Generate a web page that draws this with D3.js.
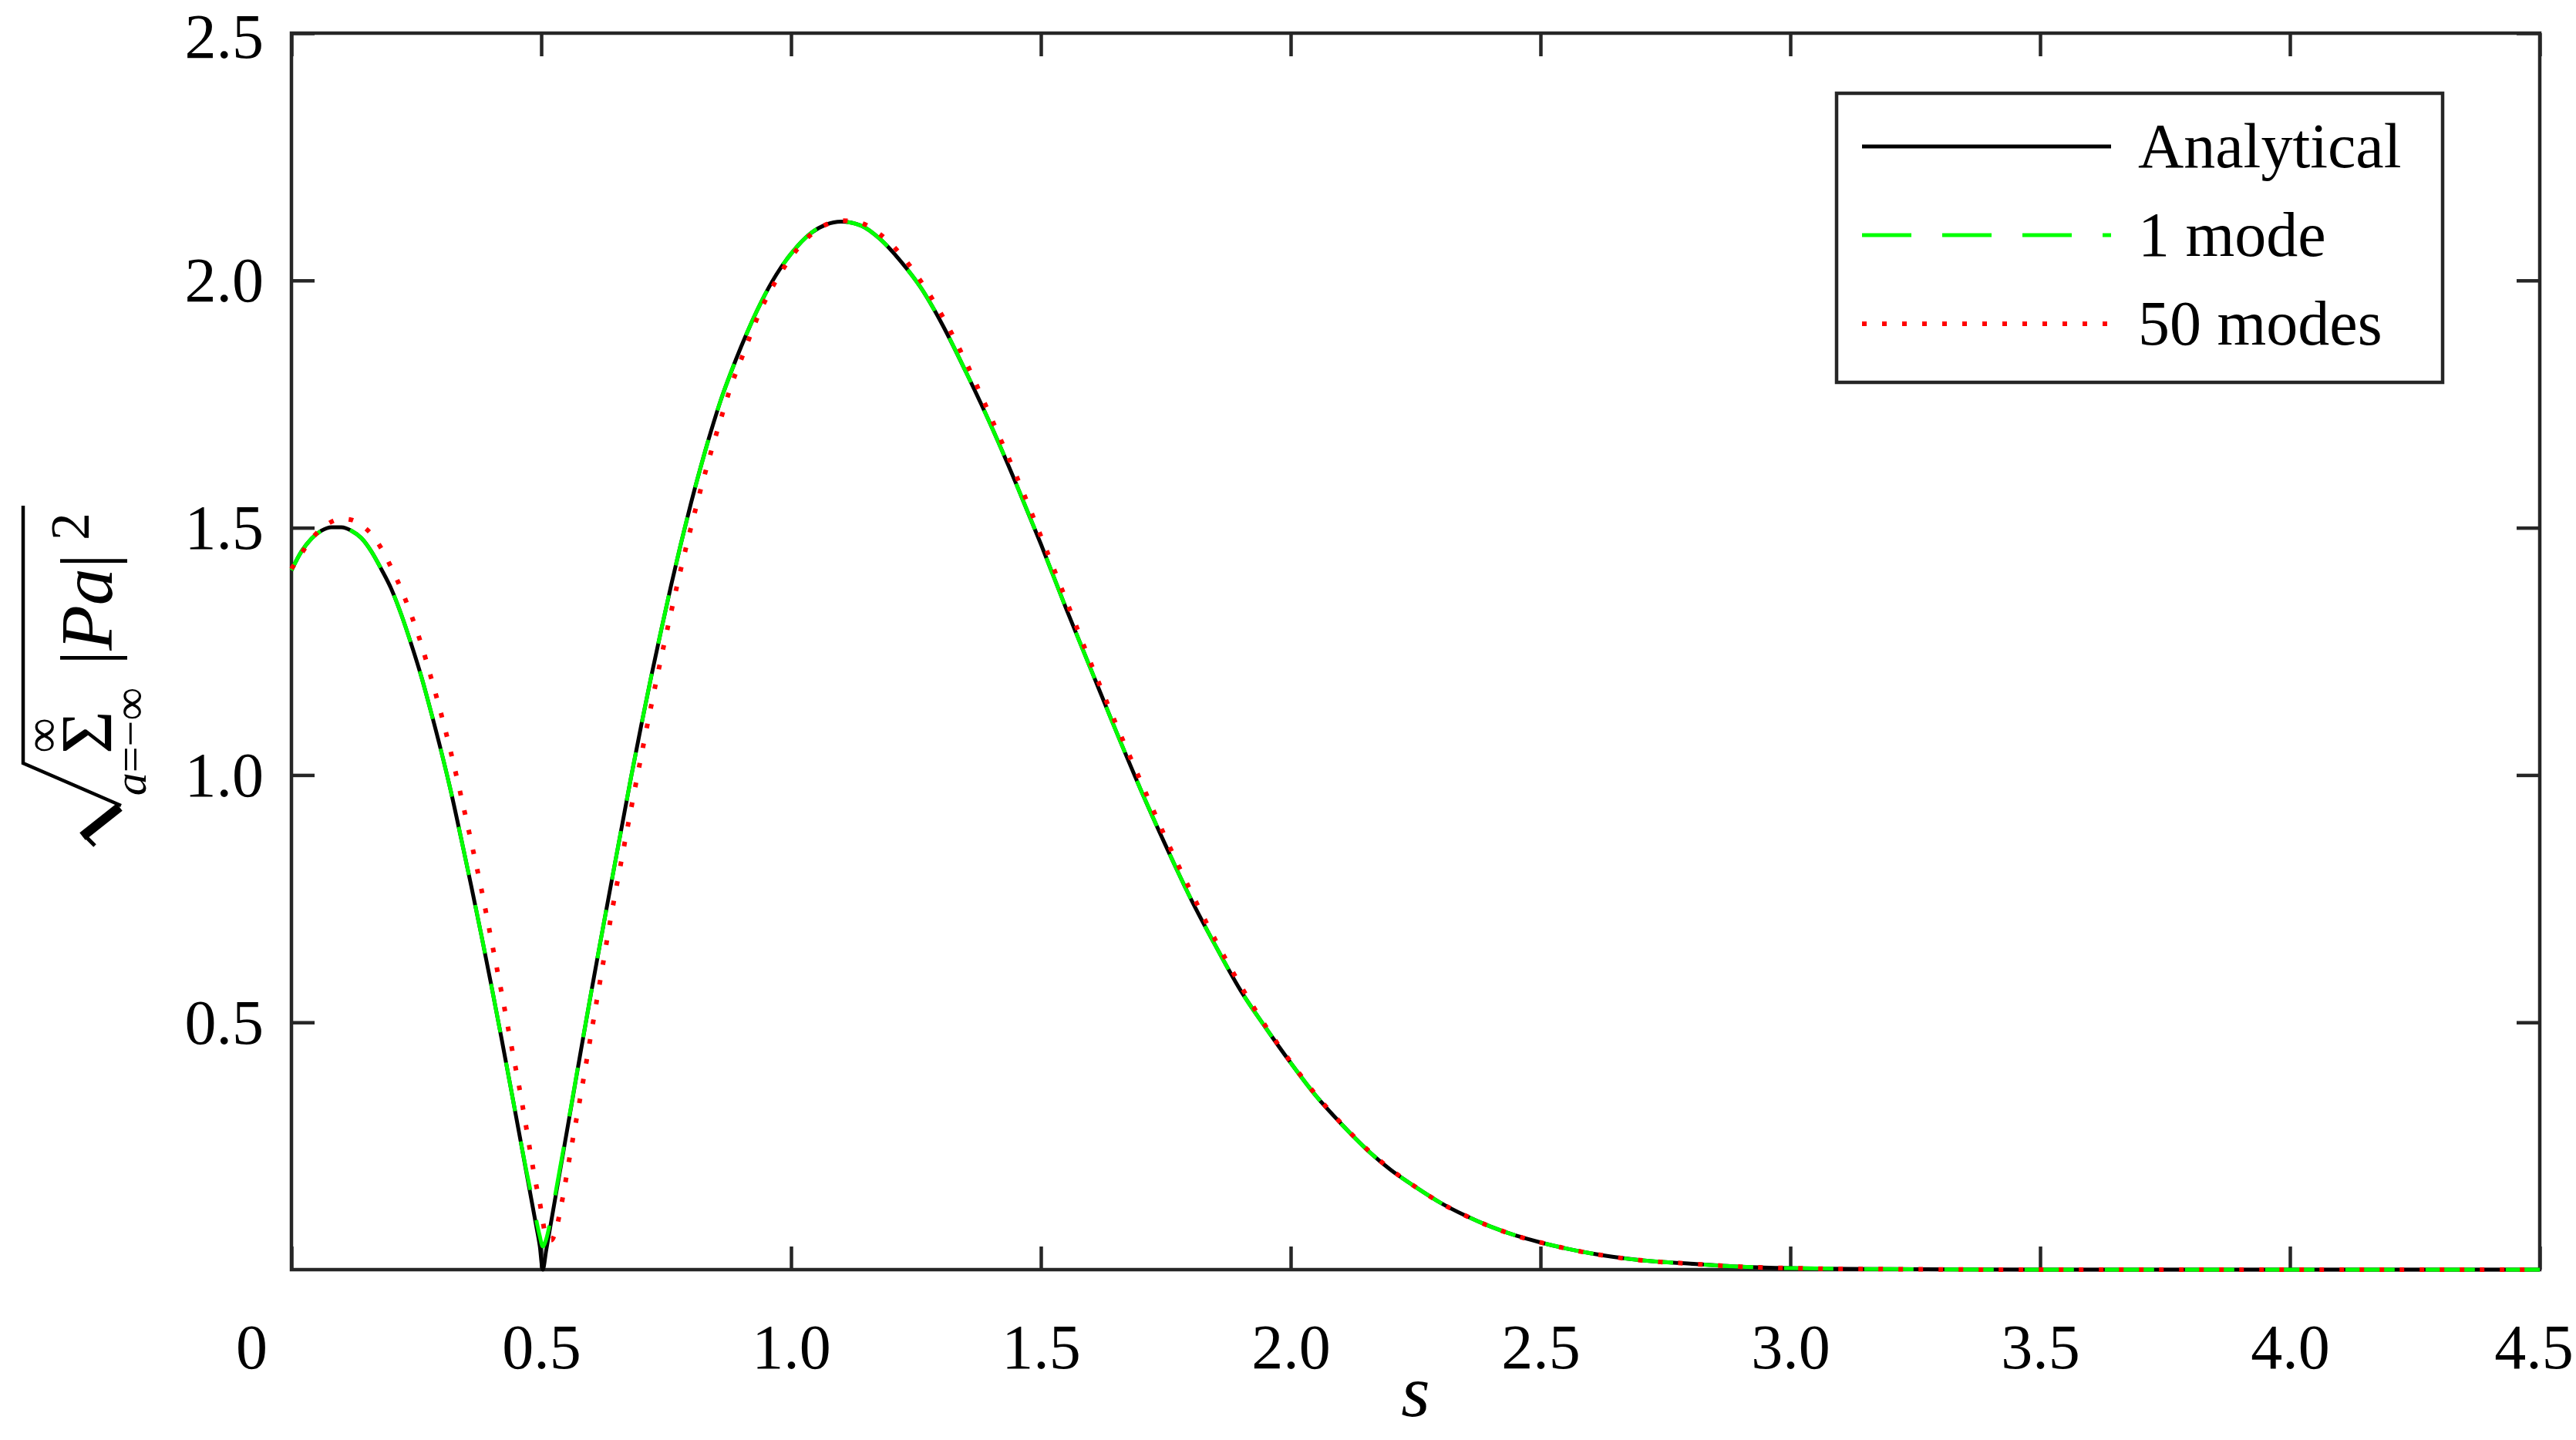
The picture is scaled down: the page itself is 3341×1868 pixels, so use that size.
<!DOCTYPE html>
<html>
<head>
<meta charset="utf-8">
<script src="https://cdn.jsdelivr.net/npm/d3@7"></script>
<style>
body { margin: 0; background: #fff; }
svg { display: block; }
</style>
</head>
<body>
<svg id="chart"></svg>
<script>
// s grid shared by the three curves
var sValues = [
    0, 0.02, 0.04, 0.06, 0.08, 0.10, 0.12, 0.14, 0.16, 0.18,
    0.20, 0.22, 0.24, 0.26, 0.28, 0.30, 0.32, 0.34, 0.36, 0.38,
    0.40, 0.42, 0.44, 0.46, 0.47, 0.48, 0.49, 0.497, 0.503, 0.51,
    0.52, 0.53, 0.54, 0.56, 0.58, 0.60, 0.62, 0.64, 0.66, 0.68,
    0.70, 0.72, 0.74, 0.76, 0.78, 0.80, 0.82, 0.84, 0.86, 0.88,
    0.90, 0.94, 0.97, 1.00, 1.04, 1.07, 1.10, 1.14, 1.18, 1.22,
    1.26, 1.30, 1.35, 1.40, 1.45, 1.50, 1.55, 1.60, 1.65, 1.70,
    1.75, 1.80, 1.85, 1.90, 1.95, 2.00, 2.05, 2.10, 2.15, 2.20,
    2.25, 2.30, 2.35, 2.40, 2.45, 2.50, 2.55, 2.60, 2.70, 2.80,
    2.90, 3.00, 3.20, 3.50, 4.00, 4.50
];

var analytical = [
    1.414, 1.452, 1.478, 1.494, 1.501, 1.501, 1.494, 1.479, 1.452, 1.416,
    1.376, 1.324, 1.264, 1.199, 1.125, 1.047, 0.963, 0.870, 0.775, 0.677,
    0.575, 0.470, 0.362, 0.253, 0.198, 0.143, 0.088, 0.048, 0.000, 0.040,
    0.098, 0.156, 0.214, 0.330, 0.447, 0.561, 0.672, 0.781, 0.889, 0.997,
    1.100, 1.199, 1.293, 1.384, 1.470, 1.551, 1.626, 1.696, 1.760, 1.815,
    1.866, 1.956, 2.011, 2.054, 2.096, 2.113, 2.119, 2.111, 2.082, 2.038,
    1.985, 1.916, 1.815, 1.707, 1.590, 1.467, 1.338, 1.214, 1.090, 0.970,
    0.857, 0.750, 0.654, 0.564, 0.489, 0.418, 0.352, 0.296, 0.245, 0.202,
    0.167, 0.135, 0.109, 0.087, 0.069, 0.055, 0.043, 0.033, 0.019, 0.012,
    0.006, 0.003, 0.001, 0.000, 0.000, 0.000
];

var oneMode = [
    1.414, 1.452, 1.478, 1.494, 1.501, 1.501, 1.494, 1.479, 1.452, 1.416,
    1.376, 1.324, 1.264, 1.199, 1.125, 1.047, 0.963, 0.870, 0.775, 0.677,
    0.575, 0.470, 0.362, 0.253, 0.201, 0.152, 0.100, 0.068, 0.047, 0.062,
    0.108, 0.163, 0.219, 0.332, 0.448, 0.561, 0.672, 0.781, 0.889, 0.997,
    1.100, 1.199, 1.293, 1.384, 1.470, 1.551, 1.626, 1.696, 1.760, 1.815,
    1.866, 1.956, 2.011, 2.054, 2.096, 2.113, 2.119, 2.111, 2.082, 2.038,
    1.985, 1.916, 1.815, 1.707, 1.590, 1.467, 1.338, 1.214, 1.090, 0.970,
    0.857, 0.750, 0.654, 0.564, 0.489, 0.418, 0.352, 0.296, 0.245, 0.202,
    0.167, 0.135, 0.109, 0.087, 0.069, 0.055, 0.043, 0.033, 0.019, 0.012,
    0.006, 0.003, 0.001, 0.000, 0.000, 0.000
];

var fiftyModes = [
    1.417, 1.448, 1.477, 1.498, 1.512, 1.518, 1.516, 1.505, 1.487, 1.458,
    1.419, 1.375, 1.323, 1.264, 1.195, 1.122, 1.042, 0.955, 0.864, 0.770,
    0.667, 0.563, 0.454, 0.346, 0.287, 0.226, 0.170, 0.136, 0.099, 0.064,
    0.060, 0.082, 0.130, 0.246, 0.359, 0.478, 0.597, 0.716, 0.825, 0.933,
    1.038, 1.140, 1.237, 1.330, 1.419, 1.502, 1.581, 1.654, 1.722, 1.787,
    1.840, 1.942, 2.000, 2.047, 2.093, 2.113, 2.121, 2.116, 2.092, 2.052,
    1.998, 1.933, 1.835, 1.723, 1.607, 1.483, 1.355, 1.226, 1.104, 0.987,
    0.872, 0.765, 0.665, 0.574, 0.492, 0.420, 0.354, 0.297, 0.246, 0.203,
    0.167, 0.135, 0.109, 0.087, 0.069, 0.055, 0.043, 0.033, 0.019, 0.012,
    0.006, 0.003, 0.001, 0.000, 0.000, 0.000
];

var seriesNames = ["Analytical", "1 mode", "50 modes"];
var xTicks = [0, 0.5, 1.0, 1.5, 2.0, 2.5, 3.0, 3.5, 4.0, 4.5];
var xTickLabels = ["0", "0.5", "1.0", "1.5", "2.0", "2.5", "3.0", "3.5", "4.0", "4.5"];
var yTicks = [0.5, 1.0, 1.5, 2.0, 2.5];
var yTickLabels = ["0.5", "1.0", "1.5", "2.0", "2.5"];

var svgWidth = 3341, svgHeight = 1868;
var margin = {top: 43, right: 47, bottom: 221, left: 378};
var width = svgWidth - margin.left - margin.right,
    height = svgHeight - margin.top - margin.bottom;
var font = "'Liberation Serif', 'Times New Roman', serif";
var axisColor = "#262626";

var svg = d3.select("#chart")
    .attr("width", svgWidth)
    .attr("height", svgHeight)
    .style("font-family", font);

var g = svg.append("g")
    .attr("transform", "translate(" + margin.left + "," + margin.top + ")");

var x = d3.scaleLinear().domain([0, 4.5]).range([0, width]);
var y = d3.scaleLinear().domain([0, 2.5]).range([height, 0]);

// axes with inward ticks on all four sides
var tickLen = 30;
var xAxis = g.append("g")
    .attr("transform", "translate(0," + height + ")")
    .call(d3.axisBottom(x).tickValues(xTicks)
        .tickFormat(function(d, i) { return xTickLabels[i]; })
        .tickSizeInner(-tickLen).tickSizeOuter(0).tickPadding(70));
var yAxis = g.append("g")
    .call(d3.axisLeft(y).tickValues(yTicks)
        .tickFormat(function(d, i) { return yTickLabels[i]; })
        .tickSizeInner(-tickLen).tickSizeOuter(0).tickPadding(36));
g.append("g")
    .call(d3.axisTop(x).tickValues(xTicks).tickFormat("")
        .tickSizeInner(-tickLen).tickSizeOuter(0));
g.append("g")
    .attr("transform", "translate(" + width + ",0)")
    .call(d3.axisRight(y).tickValues(yTicks).tickFormat("")
        .tickSizeInner(-tickLen).tickSizeOuter(0));

g.selectAll(".domain").remove();
g.selectAll(".tick line")
    .attr("stroke", axisColor)
    .attr("stroke-width", 4.5);
g.selectAll(".tick text")
    .attr("fill", "#000")
    .style("font-family", font)
    .style("font-size", "82px");
yAxis.selectAll(".tick text")
    .attr("dy", function(d) { return d === 2.5 ? "0.38em" : "0.33em"; });
xAxis.selectAll(".tick text").attr("dy", "0.71em");
// origin label sits left of the axis corner, last label kept inside the page
xAxis.selectAll(".tick text").filter(function(d) { return d === 0; })
    .attr("dx", -52);
xAxis.selectAll(".tick text").filter(function(d) { return d === 4.5; })
    .attr("dx", -8);

g.append("rect")
    .attr("width", width)
    .attr("height", height)
    .attr("fill", "none")
    .attr("stroke", axisColor)
    .attr("stroke-width", 4.5);

// curves
var styles = [
    {color: "#000000", width: 5, dash: null},
    {color: "#00ff00", width: 5, dash: "64,40"},
    {color: "#ff0000", width: 6, dash: "6,20"}
];
var seriesValues = [analytical, oneMode, fiftyModes];

var line = d3.line()
    .x(function(d) { return x(d[0]); })
    .y(function(d) { return y(d[1]); })
    .curve(d3.curveMonotoneX);

seriesValues.forEach(function(vals, i) {
    var pts = sValues.map(function(s, j) { return [s, vals[j]]; });
    g.append("path")
        .datum(pts)
        .attr("d", line)
        .attr("fill", "none")
        .attr("stroke", styles[i].color)
        .attr("stroke-width", styles[i].width)
        .attr("stroke-dasharray", styles[i].dash)
        .attr("stroke-linejoin", "round");
});

// legend
var legend = svg.append("g").attr("transform", "translate(2382,121)");
legend.append("rect")
    .attr("width", 786)
    .attr("height", 375)
    .attr("fill", "#fff")
    .attr("stroke", axisColor)
    .attr("stroke-width", 4.5);
var rows = legend.selectAll(".row")
    .data(seriesNames)
    .enter().append("g")
    .attr("transform", function(d, i) { return "translate(0," + (69 + i * 115) + ")"; });
rows.append("line")
    .attr("x1", 33).attr("x2", 356)
    .attr("stroke", function(d, i) { return styles[i].color; })
    .attr("stroke-width", function(d, i) { return styles[i].width; })
    .attr("stroke-dasharray", function(d, i) { return styles[i].dash; });
rows.append("text")
    .attr("x", 391)
    .attr("dy", "0.33em")
    .style("font-size", "82px")
    .text(function(d) { return d; });

// x label
svg.append("text")
    .attr("x", margin.left + width / 2)
    .attr("y", 1837)
    .attr("text-anchor", "middle")
    .style("font-size", "96px")
    .style("font-style", "italic")
    .text("s");

// y label: sqrt( sum_{a=-inf}^{inf} |Pa|^2 ), rotated
var yl = svg.append("g").attr("transform", "translate(145,1091) rotate(-90)");
yl.append("path")
    .attr("d", "M-6,-22L8,-36")
    .attr("stroke", "#000").attr("stroke-width", 5).attr("fill", "none");
yl.append("path")
    .attr("d", "M6,-38L44,10")
    .attr("stroke", "#000").attr("stroke-width", 12).attr("fill", "none");
yl.append("path")
    .attr("d", "M46,12L101,-115L435,-115")
    .attr("stroke", "#000").attr("stroke-width", 4.5).attr("fill", "none");
yl.append("text")
    .attr("x", 113).attr("y", 0)
    .style("font-size", "96px")
    .text("\u03A3");
yl.append("text")
    .attr("x", 137).attr("y", -69)
    .attr("text-anchor", "middle")
    .style("font-size", "64px")
    .text("\u221E");
var sub = yl.append("text")
    .attr("x", 129).attr("y", 44)
    .attr("text-anchor", "middle")
    .style("font-size", "60px");
sub.append("tspan").style("font-style", "italic").text("a");
sub.append("tspan").text("=\u2212\u221E");
var main = yl.append("text")
    .attr("x", 228).attr("y", 0)
    .style("font-size", "96px");
main.append("tspan").text("|");
main.append("tspan").style("font-style", "italic").text("Pa");
main.append("tspan").text("|");
yl.append("text")
    .attr("x", 390).attr("y", -30)
    .style("font-size", "72px")
    .text("2");
</script>
</body>
</html>
